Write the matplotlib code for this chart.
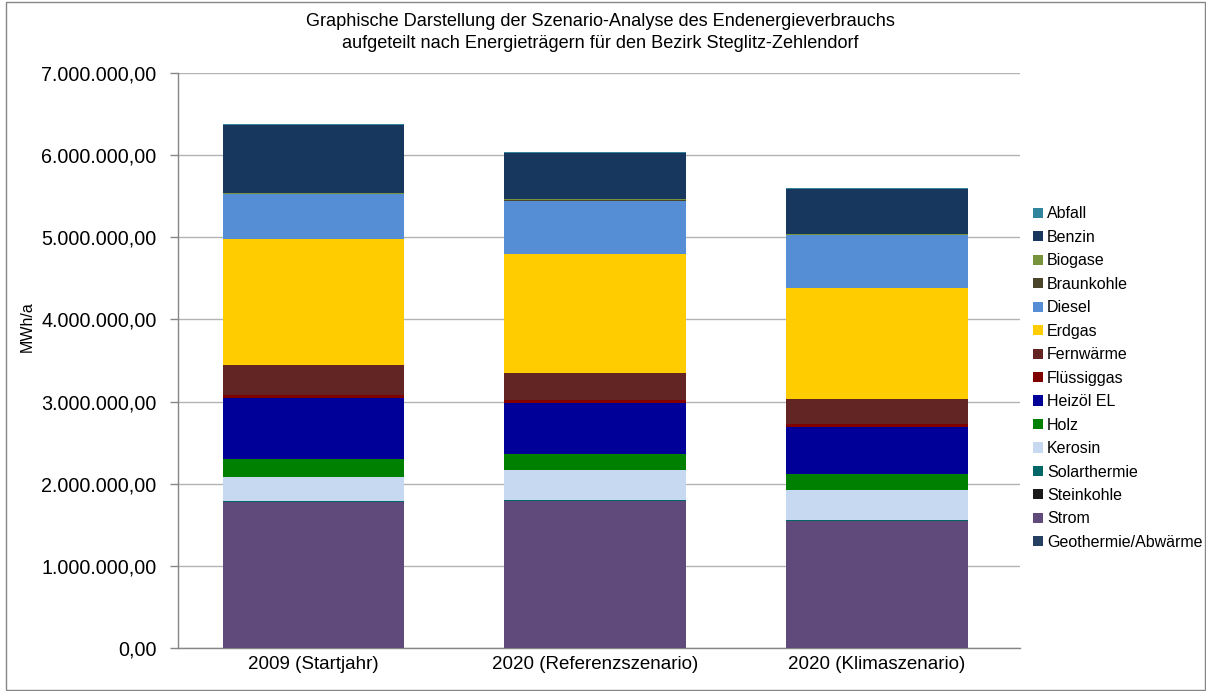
import matplotlib
matplotlib.use("Agg")
import matplotlib.pyplot as plt
from matplotlib.patches import Patch, Rectangle
from matplotlib.ticker import FuncFormatter
import numpy as np

plt.rcParams['font.family'] = ['Liberation Sans', 'DejaVu Sans']

categories = ["2009 (Startjahr)", "2020 (Referenzszenario)", "2020 (Klimaszenario)"]

# series in stacking order (bottom -> top), values in MWh/a
geothermie   = [0, 0, 0]
strom        = [1780000, 1790000, 1548000]
steinkohle   = [3000, 3000, 2000]
solarthermie = [3000, 4000, 4000]
kerosin      = [290000, 366000, 370000]
holz         = [219000, 203000, 191000]
heizoel      = [745000, 617000, 572000]
fluessiggas  = [45000, 36000, 36000]
fernwaerme   = [365000, 333000, 308000]
erdgas       = [1525000, 1441000, 1348000]
diesel       = [548000, 652000, 650000]
braunkohle   = [4000, 3000, 2000]
biogase      = [12000, 12000, 10000]
benzin       = [833000, 570000, 551000]
abfall       = [8000, 8000, 8000]

series_names = ["Geothermie/Abwärme", "Strom", "Steinkohle", "Solarthermie", "Kerosin",
                "Holz", "Heizöl EL", "Flüssiggas", "Fernwärme", "Erdgas", "Diesel",
                "Braunkohle", "Biogase", "Benzin", "Abfall"]
series_values = [geothermie, strom, steinkohle, solarthermie, kerosin, holz, heizoel,
                 fluessiggas, fernwaerme, erdgas, diesel, braunkohle, biogase, benzin, abfall]
colors = ["#254061", "#604A7B", "#1A1A1A", "#006666", "#C6D9F1", "#008000", "#000099",
          "#800000", "#632523", "#FFCC00", "#558ED5", "#4A452A", "#77933C", "#17375E", "#31859C"]

fig = plt.figure(figsize=(12.06, 6.91), dpi=100)
ax = fig.add_axes([0.1476, 0.0622, 0.6982, 0.8322])

x = np.arange(len(categories))
bottom = np.zeros(len(categories))
for name, vals, c in zip(series_names, series_values, colors):
    v = np.array(vals, dtype=float)
    ax.bar(x, v, 0.645, bottom=bottom, color=c, linewidth=0, zorder=3)
    bottom += v

ax.set_xlim(-0.481, 2.508)
ax.set_ylim(0, 7000000)
ax.set_yticks(np.arange(0, 7000001, 1000000))

def de_fmt(v, pos):
    s = f"{v:,.2f}"
    return s.replace(",", "X").replace(".", ",").replace("X", ".")
ax.yaxis.set_major_formatter(FuncFormatter(de_fmt))
ax.set_xticks(x)
ax.set_xticklabels(categories, fontsize=13.5)
ax.tick_params(axis='x', length=0, pad=6)
ax.tick_params(axis='y', length=6, width=1, color="#868686", pad=9.5, labelsize=14.2)
ax.yaxis.grid(True, color="#B3B3B3", linewidth=1, zorder=0)
for s in ["top", "right"]:
    ax.spines[s].set_visible(False)
for s in ["left", "bottom"]:
    ax.spines[s].set_color("#868686")
    ax.spines[s].set_linewidth(1)

fig.text(0.4975, 0.981, "Graphische Darstellung der Szenario-Analyse des Endenergieverbrauchs\n"
         "aufgeteilt nach Energieträgern für den Bezirk Steglitz-Zehlendorf",
         ha="center", va="top", fontsize=13.1, linespacing=1.4)
fig.text(0.023, 0.528, "MWh/a", rotation=90, ha="center", va="center", fontsize=11.5)

handles = [Patch(facecolor=c, edgecolor="none") for c in colors]
leg_order = list(range(len(series_names)))[::-1]
fig.legend([handles[i] for i in leg_order], [series_names[i] for i in leg_order],
           loc="upper left", bbox_to_anchor=(0.8515, 0.7105), frameon=False,
           fontsize=11.5, labelspacing=0.53, handlelength=0.6, handleheight=0.6,
           handletextpad=0.25, borderaxespad=0)

fig.patches.append(Rectangle((6/1206, 1/691), 1199/1206, 688/691, transform=fig.transFigure,
                             fill=False, edgecolor="#868686", linewidth=1))

fig.savefig("out.png", dpi=100)
